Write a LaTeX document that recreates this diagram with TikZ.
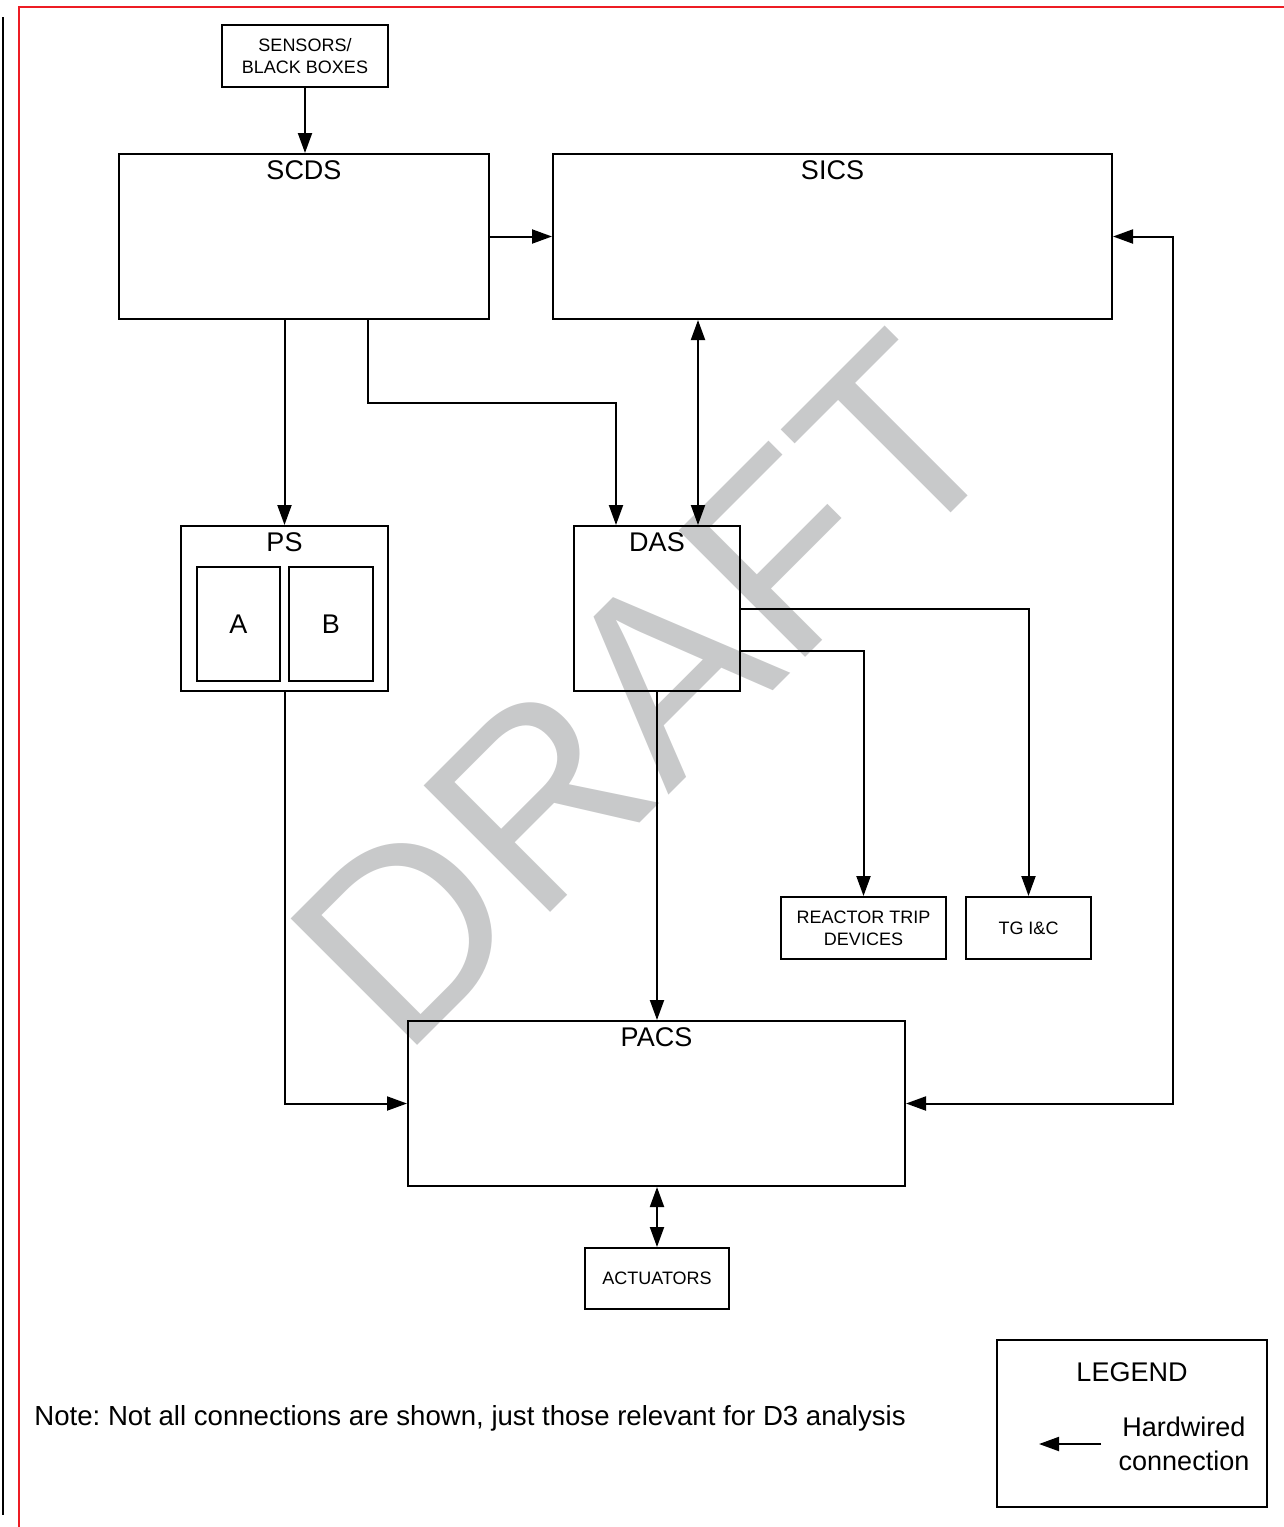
\documentclass[tikz,border=0pt]{standalone}
\usepackage{fontspec}
\setmainfont{Liberation Sans}
\usetikzlibrary{arrows.meta,positioning,calc}

\definecolor{framered}{HTML}{ED1C24}
\definecolor{draftgray}{HTML}{C8C9CA}

\tikzset{
  blk/.style={draw,line width=1pt,inner sep=0pt},
  lbl/.style={font=\fontsize{13.5}{16}\selectfont,inner sep=0pt},
  small/.style={font=\fontsize{9}{11}\selectfont,align=center,inner sep=0pt},
  wire/.style={line width=1pt,-{Triangle[length=10pt,width=7pt]}},
  wire2/.style={line width=1pt,{Triangle[length=10pt,width=7pt]}-{Triangle[length=10pt,width=7pt]}},
}
\frenchspacing

\begin{document}
\begin{tikzpicture}[x=0.5pt,y=-0.5pt]
  \useasboundingbox (0,0) rectangle (1284,1527);
  % watermark
  \node[text=draftgray,font=\fontsize{130}{130}\selectfont,rotate=45,inner sep=0pt] (wm) at (646,691) {DRAFT};
  % page frame
  \draw[framered,line width=1pt] (19,1527) -- (19,7) -- (1284,7);
  \draw[line width=1pt] (3,17) -- (3,1515);

  % boxes
  \node[blk,small,minimum width=83pt,minimum height=31pt] (sens) at (305,56) {SENSORS/\\BLACK BOXES};
  \node[blk,minimum width=185pt,minimum height=82.5pt] (scds) at (304,236.5) {};
  \node[blk,minimum width=279.5pt,minimum height=82.5pt] (sics) at (832.5,236.5) {};
  \node[blk,minimum width=103.5pt,minimum height=82.5pt] (ps) at (284.5,608.5) {};
  \node[blk,lbl,minimum width=41.5pt,minimum height=57pt] (psa) at (238.5,624) {A};
  \node[blk,lbl,minimum width=42pt,minimum height=57pt] (psb) at (331,624) {B};
  \node[blk,minimum width=83pt,minimum height=82.5pt] (das) at (657,608.5) {};
  \node[blk,small,minimum width=82.5pt,minimum height=31pt] (rtd) at (863.5,928) {REACTOR TRIP\\DEVICES};
  \node[blk,small,minimum width=62.5pt,minimum height=31pt] (tg) at (1028.5,928) {TG I\&C};
  \node[blk,minimum width=248.5pt,minimum height=82.5pt] (pacs) at (656.5,1103.5) {};
  \node[blk,small,minimum width=72pt,minimum height=30.5pt] (act) at (657,1278.5) {ACTUATORS};

  % box titles
  \node[lbl,below=3.5pt of scds.north] (scdsT) {SCDS};
  \node[lbl,below=3.5pt of sics.north] (sicsT) {SICS};
  \node[lbl,below=3.5pt of ps.north] (psT) {PS};
  \node[lbl,below=3.5pt of das.north] (dasT) {DAS};
  \node[lbl,below=3.5pt of pacs.north] (pacsT) {PACS};

  % connections
  \coordinate (dasL) at ($(das.north)+(-41,0)$);
  \coordinate (dasR) at ($(das.north)+(41,0)$);
  \coordinate (scdsOut) at ($(scds.south)+(64,0)$);
  \coordinate (bus) at (1173,0);
  \draw[wire] (sens.south) -- (sens.south |- scds.north);
  \draw[wire] (scds.east) -- (sics.west);
  \draw[wire2] (sics.east) -- (sics.east -| bus) -- (bus |- pacs.east) -- (pacs.east);
  \draw[wire2] (sics.south -| dasR) -- (dasR);
  \draw[wire] (scds.south -| ps.north) -- (ps.north);
  \draw[wire] (scdsOut) -- ++(0,83) -| (dasL);
  \draw[wire] (das.east) -| (tg.north);
  \draw[wire] ($(das.east)+(0,42.5)$) -| (rtd.north);
  \draw[wire] (das.south) -- (das.south |- pacs.north);
  \draw[wire] (ps.south) |- (pacs.west);
  \draw[wire2] (pacs.south -| act.north) -- (act.north);

  % note
  \node[lbl,anchor=west,font=\fontsize{13.8}{16}\selectfont] (note) at (34,1418) {Note: Not all connections are shown, just those relevant for D3 analysis};

  % legend
  \node[blk,minimum width=135pt,minimum height=83.5pt] (legend) at (1132,1423.5) {};
  \node[lbl] (legendT) at (1132,1372) {LEGEND};
  \node[lbl,align=center,font=\fontsize{13.5}{17}\selectfont] (legendTxt) at (1184,1444) {Hardwired\\connection};
  \coordinate (lgA) at (1101,1444);
  \coordinate (lgB) at (1039,1444);
  \draw[wire] (lgA) -- (lgB);
\end{tikzpicture}
\end{document}
